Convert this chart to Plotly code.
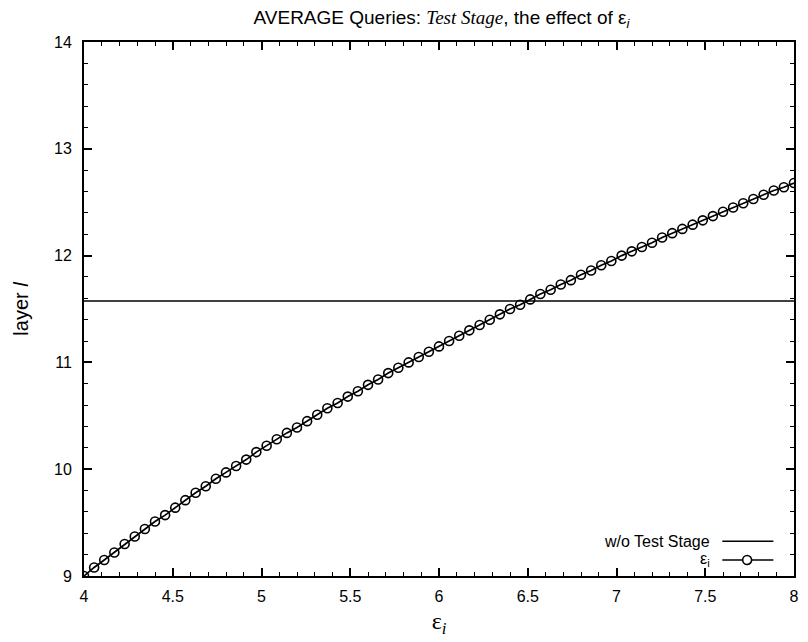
import plotly.graph_objects as go

# Data
eps_x = [4.000, 4.057, 4.114, 4.171, 4.229, 4.286, 4.343, 4.400, 4.457, 4.514,
         4.571, 4.629, 4.686, 4.743, 4.800, 4.857, 4.914, 4.971, 5.029, 5.086,
         5.143, 5.200, 5.257, 5.314, 5.371, 5.429, 5.486, 5.543, 5.600, 5.657,
         5.714, 5.771, 5.829, 5.886, 5.943, 6.000, 6.057, 6.114, 6.171, 6.229,
         6.286, 6.343, 6.400, 6.457, 6.514, 6.571, 6.629, 6.686, 6.743, 6.800,
         6.857, 6.914, 6.971, 7.029, 7.086, 7.143, 7.200, 7.257, 7.314, 7.371,
         7.429, 7.486, 7.543, 7.600, 7.657, 7.714, 7.771, 7.829, 7.886, 7.943,
         8.000]
eps_layer = [9.00, 9.08, 9.15, 9.22, 9.30, 9.37, 9.44, 9.51, 9.57, 9.64,
             9.71, 9.78, 9.84, 9.91, 9.97, 10.03, 10.09, 10.16, 10.22, 10.28,
             10.34, 10.39, 10.45, 10.51, 10.57, 10.62, 10.68, 10.73, 10.79, 10.84,
             10.90, 10.95, 11.00, 11.05, 11.10, 11.15, 11.20, 11.25, 11.30, 11.35,
             11.40, 11.45, 11.50, 11.54, 11.59, 11.64, 11.68, 11.73, 11.77, 11.82,
             11.86, 11.91, 11.95, 12.00, 12.04, 12.08, 12.12, 12.17, 12.21, 12.25,
             12.29, 12.33, 12.37, 12.41, 12.45, 12.49, 12.53, 12.57, 12.61, 12.64,
             12.68]
base_x = [4, 8]
base_layer = [11.575, 11.575]

SANS = "Liberation Sans, Arial, sans-serif"
SERIF = "Liberation Serif, Times New Roman, serif"

fig = go.Figure()
fig.add_trace(go.Scatter(x=base_x, y=base_layer, mode="lines",
                         line=dict(color="black", width=1.6),
                         name="w/o Test Stage", showlegend=False))
fig.add_trace(go.Scatter(x=eps_x, y=eps_layer, mode="lines+markers",
                         line=dict(color="black", width=1.7),
                         marker=dict(symbol="circle-open", size=9, color="black",
                                     line=dict(width=1.6, color="black")),
                         name="ε<sub>i</sub>", showlegend=False))

axis_common = dict(showgrid=False, zeroline=False, showline=True, linecolor="black",
                   linewidth=1.8, mirror="ticks", ticks="inside", ticklen=8,
                   tickwidth=1.5, tickcolor="black",
                   tickfont=dict(family=SANS, size=16, color="black"))

fig.update_xaxes(range=[4, 8], dtick=0.5, tick0=4,
                 ticklabelstandoff=5,
                 minor=dict(dtick=0.1, ticklen=4, tickwidth=1.3, ticks="inside",
                            tickcolor="black"),
                 title=dict(text="ε<sub><i>i</i></sub>",
                            font=dict(family=SERIF, size=24, color="black"),
                            standoff=8),
                 **axis_common)
fig.update_yaxes(range=[9, 14], dtick=1, tick0=9,
                 ticklabelstandoff=7,
                 minor=dict(dtick=0.2, ticklen=4, tickwidth=1.3, ticks="inside",
                            tickcolor="black"),
                 title=dict(text="layer <i>l</i>",
                            font=dict(family=SANS, size=20, color="black"),
                            standoff=20),
                 **axis_common)

# Legend drawn like the original (text left of the sample)
leg_rows = [("w/o Test Stage", 0.065, False), ("ε<sub>i</sub>", 0.030, True)]
for label, yp, with_marker in leg_rows:
    fig.add_annotation(x=0.884, y=yp, xref="paper", yref="paper", text=label,
                       showarrow=False, xanchor="right", yanchor="middle",
                       font=dict(family=SANS, size=16, color="black"))
    fig.add_shape(type="line", xref="paper", yref="paper", x0=0.899, x1=0.971,
                  y0=yp, y1=yp, line=dict(color="black",
                                          width=1.7 if with_marker else 1.6))
    if with_marker:
        fig.add_shape(type="circle", xref="paper", yref="paper",
                      x0=0.934 - 4.5 / 715, x1=0.934 + 4.5 / 715,
                      y0=yp - 4.5 / 534, y1=yp + 4.5 / 534,
                      line=dict(color="black", width=1.6), fillcolor="white")

fig.update_layout(
    width=808, height=642,
    margin=dict(l=84, r=9, t=42, b=66),
    paper_bgcolor="white", plot_bgcolor="white",
    showlegend=False,
    title=dict(text="AVERAGE Queries: <span style=\"font-family:'Liberation Serif'\"><i>Test Stage</i></span>, the effect of ε<sub><i>i</i></sub>",
               x=(84 + 799) / 2 / 808, xanchor="center",
               y=1 - 17 / 642, yanchor="middle",
               font=dict(family=SANS, size=19, color="black")),
)

fig.write_html("out.html")
